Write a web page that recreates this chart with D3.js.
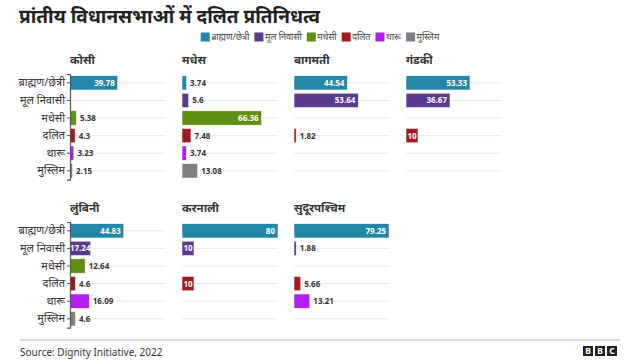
<!DOCTYPE html>
<html>
<head>
<meta charset="utf-8">
<script src="https://cdn.jsdelivr.net/npm/d3@7"></script>
<style>
  body { margin: 0; background: #fff; }
  svg { display: block; }
  text { font-family: "Noto Sans", "Noto Sans Devanagari", "Lohit Devanagari", sans-serif; }
</style>
</head>
<body>
<svg id="chart" width="640" height="360"></svg>
<script>
// ---- data ----
const groups = ["ब्राह्मण/छेत्री", "मूल निवासी", "मधेसी", "दलित", "थारू", "मुस्लिम"];
const groupColors = ["#2587a8", "#5b3a8e", "#5e8f12", "#a11a1f", "#b41ff0", "#7f7f82"];
const provinces = ["कोसी", "मधेस", "बागमती", "गंडकी", "लुंबिनी", "करनाली", "सुदूरपश्चिम"];
const kosi         = [39.78, null, 5.38, 4.3, 3.23, 2.15];
const madhesh      = [3.74, 5.6, 66.36, 7.48, 3.74, 13.08];
const bagmati      = [44.54, 53.64, null, 1.82, null, null];
const gandaki      = [53.33, 36.67, null, 10, null, null];
const lumbini      = [44.83, 17.24, 12.64, 4.6, 16.09, 4.6];
const karnali      = [80, 10, null, 10, null, null];
const sudurpaschim = [79.25, 1.88, null, 5.66, 13.21, null];
const provinceValues = [kosi, madhesh, bagmati, gandaki, lumbini, karnali, sudurpaschim];
const xDomain = [0, 80];
const titleText = "प्रांतीय विधानसभाओं में दलित प्रतिनिधत्व";
const sourceText = "Source: Dignity Initiative, 2022";

// ---- layout ----
const svg = d3.select("#chart");
const colX = d3.scaleLinear().domain([0, 3]).range([70, 406]);
const rowTop = [74, 222];
const panelH = 105.6;
const x = d3.scaleLinear().domain(xDomain).range([0, 96]);
const y = d3.scaleBand().domain(groups).range([0, panelH]).paddingInner(0.18).paddingOuter(0.09);
const color = d3.scaleOrdinal().domain(groups).range(groupColors);

// title
svg.append("text").attr("x", 19).attr("y", 23)
  .attr("font-size", 19).attr("font-weight", 700).attr("fill", "#222")
  .text(titleText);

// legend
const legend = svg.append("g");
let lx = 0;
groups.forEach((g, i) => {
  const it = legend.append("g").attr("transform", `translate(${lx},0)`);
  it.append("rect").attr("x", 0).attr("y", -4.5).attr("width", 9).attr("height", 9).attr("fill", color(g));
  const t = it.append("text").attr("x", 10.5).attr("y", 3.2).attr("font-size", 9).attr("fill", "#444").text(g);
  lx += 10.5 + t.node().getComputedTextLength() + 5;
});
legend.attr("transform", `translate(${320 - (lx - 5) / 2},37)`);

// panels
provinces.forEach((p, pi) => {
  const col = pi < 4 ? pi : pi - 4;
  const row = pi < 4 ? 0 : 1;
  const g = svg.append("g").attr("transform", `translate(${colX(col)},${rowTop[row]})`);
  const vals = provinceValues[pi];
  const data = groups.map((gr, i) => ({ group: gr, value: vals[i] }));

  g.append("text").attr("x", 0).attr("y", -10).attr("font-size", 11.5)
    .attr("font-weight", 700).attr("fill", "#333").text(p);

  // gridlines
  g.selectAll(".grid").data(groups).enter().append("line")
    .attr("x1", 0).attr("x2", x(xDomain[1]))
    .attr("y1", d => y(d) + y.bandwidth() / 2).attr("y2", d => y(d) + y.bandwidth() / 2)
    .attr("stroke", "#e9e9e9").attr("stroke-width", 1);

  const present = data.filter(d => d.value != null);
  g.selectAll(".bar").data(present).enter().append("rect")
    .attr("x", 0).attr("y", d => y(d.group))
    .attr("width", d => x(d.value)).attr("height", y.bandwidth())
    .attr("fill", d => color(d.group))
    .attr("stroke", "#fff").attr("stroke-width", 0.6);

  present.forEach(d => {
    const t = g.append("text").attr("font-size", 8).attr("font-weight", 700)
      .attr("y", y(d.group) + y.bandwidth() / 2 + 3).text(d.value);
    const w = t.node().getComputedTextLength();
    const bw = x(d.value);
    if (w <= bw) {
      const pad = Math.max(0.2, Math.min(3, (bw - w) / 2));
      t.attr("x", bw - pad).attr("text-anchor", "end").attr("fill", "#fff");
    } else {
      t.attr("x", bw + 3.5).attr("fill", "#333");
    }
  });

  if (col === 0) {
    const ax = g.append("g").call(d3.axisLeft(y).tickSize(3).tickPadding(2));
    ax.select(".domain").attr("stroke", "#555").attr("stroke-width", 1.2);
    ax.selectAll(".tick line").attr("stroke", "#555");
    ax.selectAll(".tick text").attr("font-size", 11).attr("fill", "#333")
      .attr("font-family", "\"Noto Sans\", \"Noto Sans Devanagari\", sans-serif");
  }
});

// footer
svg.append("line").attr("x1", 20).attr("x2", 620).attr("y1", 340).attr("y2", 340)
  .attr("stroke", "#bbb").attr("stroke-width", 1);
svg.append("text").attr("x", 20).attr("y", 356).attr("font-size", 10).attr("fill", "#333").text(sourceText);
const bbc = svg.append("g").attr("transform", "translate(583,346)");
["B", "B", "C"].forEach((c, i) => {
  bbc.append("rect").attr("x", i * 12).attr("y", 0).attr("width", 10).attr("height", 10).attr("fill", "#222");
  bbc.append("text").attr("x", i * 12 + 5).attr("y", 8.3).attr("text-anchor", "middle")
    .attr("font-size", 8.5).attr("font-weight", 700).attr("fill", "#fff")
    .attr("font-family", "Arial, 'Liberation Sans', sans-serif").text(c);
});
</script>
</body>
</html>
